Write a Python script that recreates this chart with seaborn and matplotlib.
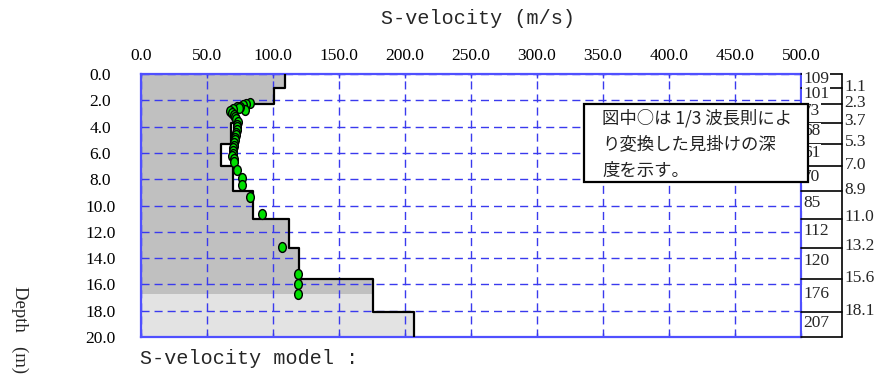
import numpy as np
import matplotlib
matplotlib.use("Agg")
import matplotlib.pyplot as plt
import seaborn as sns
from matplotlib.path import Path
from matplotlib.markers import MarkerStyle
from matplotlib.patches import Rectangle

# Layered S-wave velocity model (layer tops in m, velocity in m/s)
layer_tops = [0.0, 1.1, 2.3, 3.7, 5.3, 7.0, 8.9, 11.0, 13.2, 15.6, 18.1]
layer_bottom = 20.0
layer_vs = [109, 101, 73, 68, 61, 70, 85, 112, 120, 176, 207]

# Dispersion data converted with the 1/3-wavelength rule
obs_vs = [82.8, 79.5, 77.7, 79.0, 75.2, 72.7, 74.5, 70.1, 67.6, 68.9, 71.0,
          71.4, 72.5, 73.9, 73.2, 72.7, 72.9, 72.4, 72.0, 71.6, 71.2, 70.8,
          70.5, 70.2, 70.0, 69.7, 69.5, 70.4, 71.0, 73.2, 76.9, 76.9, 83.0,
          91.6, 106.8, 119.4, 119.4, 119.4]
obs_depth = [2.23, 2.28, 2.36, 2.74, 2.49, 2.49, 2.62, 2.66, 2.79, 2.99, 3.10,
             3.25, 3.45, 3.63, 3.85, 4.05, 4.25, 4.45, 4.65, 4.85, 5.05, 5.25,
             5.45, 5.65, 5.85, 6.05, 6.25, 6.45, 6.70, 7.30, 7.93, 8.44, 9.33,
             10.65, 13.13, 15.23, 15.99, 16.73]

max_apparent_depth = 16.7

x_ticks = [0, 50, 100, 150, 200, 250, 300, 350, 400, 450, 500]
y_ticks = [0, 2, 4, 6, 8, 10, 12, 14, 16, 18, 20]

note_lines = ["図中○は 1/3 波長則によ", "り変換した見掛けの深", "度を示す。"]

sns.set_theme(style="white")
plt.rcParams["font.family"] = ["Liberation Serif", "DejaVu Sans"]

W, H = 876, 378
fig = plt.figure(figsize=(W / 100, H / 100), dpi=100)
ax = fig.add_axes([140.7 / W, 1 - 337 / H, (801 - 140.7) / W, (337 - 74) / H])

blue = "#3a3aee"
frame_blue = "#5050ff"

# step profile of the model
bounds = layer_tops + [layer_bottom]
step_y = np.repeat(bounds, 2)[1:-1]
step_x = np.repeat(layer_vs, 2)

ax.fill_betweenx(step_y, 0, step_x, color="#e3e3e3", lw=0, zorder=1)
ax.fill_betweenx(np.minimum(step_y, max_apparent_depth), 0, step_x,
                 color="#c0c0c0", lw=0, zorder=1.1)

sns.lineplot(x=step_x, y=step_y, sort=False, estimator=None, ax=ax,
             color="black", lw=1.6, zorder=3)

circ = Path.unit_circle()
ellipse = Path(circ.vertices * np.array([0.78, 1.0]), circ.codes)
sns.scatterplot(x=obs_vs, y=obs_depth, ax=ax, marker=MarkerStyle(ellipse),
                s=50, color="#00e000", edgecolor="black", linewidth=1.0,
                zorder=4)

ax.set_xlim(0, 500)
ax.set_ylim(20, 0)
ax.set_xticks(x_ticks)
ax.set_yticks(y_ticks)
ax.set_xticklabels([f"{v:.1f}" for v in x_ticks])
ax.set_yticklabels([f"{v:.1f}" for v in y_ticks])
ax.set_xlabel("")
ax.set_ylabel("")

ax.set_axisbelow("line")
ax.grid(True, color=blue, lw=1.0, linestyle=(0, (5.8, 3.6)))

ax.xaxis.set_ticks_position("both")
ax.tick_params(axis="x", which="both", direction="in", length=3, width=1,
               color=blue, labeltop=True, labelbottom=False, pad=7,
               labelsize=12.5, labelcolor="black")
ax.tick_params(axis="y", length=0, pad=29, labelsize=12.5,
               labelcolor="black")
for lab in ax.get_yticklabels():
    lab.set_horizontalalignment("center")

for sp in ax.spines.values():
    sp.set_color(frame_blue)
    sp.set_linewidth(1.6)
    sp.set_visible(True)

# model table on the right
x_box = 531.0
for d in bounds:
    ax.plot([500, x_box], [d, d], color="black", lw=1.2, clip_on=False,
            zorder=5)
ax.plot([x_box, x_box], [0, layer_bottom], color="black", lw=1.2,
        clip_on=False, zorder=5)
for top, bot, v in zip(bounds[:-1], bounds[1:], layer_vs):
    ax.text(501.5, (top + bot) / 2 - 0.15, f"{v}", ha="left", va="center",
            fontsize=12.5, clip_on=False, zorder=6,
            bbox=dict(facecolor="white", edgecolor="none", pad=0.4))
for d in layer_tops[1:]:
    ax.text(533.0, d - 0.1, f"{d:.1f}", ha="left", va="center",
            fontsize=12.5, clip_on=False, zorder=6)

# explanatory note
ax.add_patch(Rectangle((335.7, 2.28), 505.3 - 335.7, 8.2 - 2.28,
                       facecolor="white", edgecolor="black", lw=1.6,
                       clip_on=False, zorder=7))
for d, line in zip([3.35, 5.32, 7.38], note_lines):
    ax.text(349.3, d, line, ha="left", va="center", fontsize=12.5,
            family=["Noto Sans CJK JP", "DejaVu Sans"], color="#222222",
            clip_on=False, zorder=8)

mono = ["Liberation Mono", "DejaVu Sans Mono"]
fig.text(478 / W, 1 - 19 / H, "S-velocity (m/s)", ha="center", va="center",
         fontsize=14.5, family=mono)
fig.text(140 / W, 1 - 358 / H, "S-velocity model :", ha="left",
         va="center", fontsize=14.5, family=mono)
fig.text(20 / W, 1 - 286 / H, "Depth   (m)", rotation=-90, ha="center",
         va="top", fontsize=13.5)

fig.savefig("out.png", dpi=100, facecolor="white")
